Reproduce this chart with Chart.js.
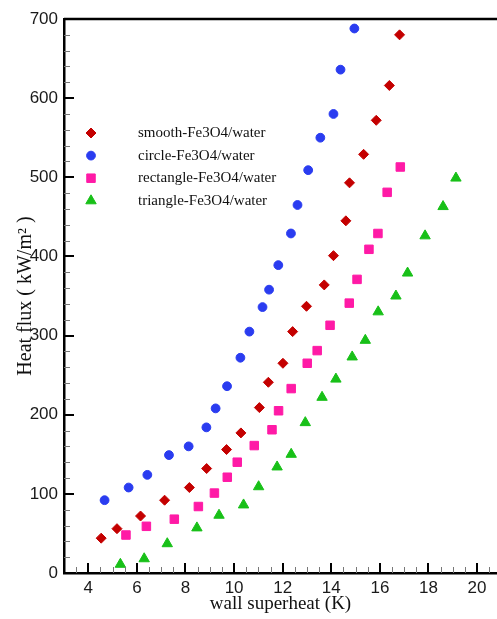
<!DOCTYPE html>
<html>
<head>
<meta charset="utf-8">
<script src="https://cdn.jsdelivr.net/npm/chart.js@4.4.0/dist/chart.umd.min.js"></script>
<style>
  html, body { margin: 0; padding: 0; background: #fff; }
</style>
</head>
<body>
<canvas id="fluxChart" width="497" height="619"></canvas>
<script>
// Data (wall superheat K, heat flux kW/m2)
const smoothX = [4.53, 5.18, 6.15, 7.14, 8.16, 8.87, 9.69, 10.28, 11.04, 11.41, 12.01, 12.41, 12.98, 13.71, 14.09, 14.6, 14.75, 15.33, 15.85, 16.39, 16.81];
const smoothY = [44, 56, 72, 92, 108, 132, 156, 177, 209, 241, 265, 305, 337, 364, 401, 445, 493, 529, 572, 616, 680];

const circleX = [4.67, 5.66, 6.43, 7.32, 8.13, 8.86, 9.24, 9.71, 10.26, 10.63, 11.17, 11.44, 11.82, 12.34, 12.61, 13.05, 13.55, 14.09, 14.38, 14.95];
const circleY = [92, 108, 124, 149, 160, 184, 208, 236, 272, 305, 336, 358, 389, 429, 465, 509, 550, 580, 636, 688];

const rectX = [5.55, 6.39, 7.54, 8.53, 9.19, 9.72, 10.13, 10.83, 11.56, 11.83, 12.35, 13.01, 13.42, 13.95, 14.74, 15.06, 15.55, 15.92, 16.3, 16.84];
const rectY = [48, 59, 68, 84, 101, 121, 140, 161, 181, 205, 233, 265, 281, 313, 341, 371, 409, 429, 481, 513];

const triX = [5.32, 6.3, 7.25, 8.47, 9.38, 10.39, 11.01, 11.77, 12.35, 12.93, 13.62, 14.19, 14.86, 15.4, 15.93, 16.66, 17.14, 17.86, 18.6, 19.13];
const triY = [11, 18, 37, 57, 73, 86, 109, 134, 150, 190, 222, 245, 273, 294, 330, 350, 379, 426, 463, 499];

const xTicks = [4, 6, 8, 10, 12, 14, 16, 18, 20];
const yTicks = [0, 100, 200, 300, 400, 500, 600, 700];

const toPoints = (xs, ys) => xs.map((x, i) => ({ x: x, y: ys[i] }));

// inward major/minor ticks plus the top frame line
const frameTicks = {
    id: 'frameTicks',
    afterDraw(chart) {
        const { ctx, chartArea: a, scales: { x, y } } = chart;
        ctx.save();
        ctx.strokeStyle = '#000';
        ctx.lineWidth = 2.5;
        ctx.beginPath();
        ctx.moveTo(a.left, a.top);
        ctx.lineTo(chart.width, a.top);
        ctx.stroke();

        // minor ticks
        ctx.strokeStyle = '#777';
        ctx.lineWidth = 1;
        ctx.beginPath();
        for (let v = 20; v < 700; v += 20) {
            if (v % 100 === 0) continue;
            const py = Math.round(y.getPixelForValue(v)) + 0.5;
            ctx.moveTo(a.left, py);
            ctx.lineTo(a.left + 6, py);
        }
        for (let v = 3.5; v < x.max; v += 0.5) {
            if (v % 2 === 0) continue;
            const px = Math.round(x.getPixelForValue(v)) + 0.5;
            ctx.moveTo(px, a.bottom);
            ctx.lineTo(px, a.bottom - 6);
        }
        ctx.stroke();

        // major ticks
        ctx.strokeStyle = '#000';
        ctx.lineWidth = 2;
        ctx.beginPath();
        yTicks.forEach(v => {
            if (v === 0) return;
            const py = Math.round(y.getPixelForValue(v));
            ctx.moveTo(a.left, py);
            ctx.lineTo(a.left + 10, py);
        });
        xTicks.forEach(v => {
            const px = Math.round(x.getPixelForValue(v));
            ctx.moveTo(px, a.bottom);
            ctx.lineTo(px, a.bottom - 10);
        });
        ctx.stroke();
        ctx.restore();
    }
};

// legend drawn inside the plot, upper left
const innerLegend = {
    id: 'innerLegend',
    afterDraw(chart) {
        const ctx = chart.ctx;
        ctx.save();
        chart.data.datasets.forEach((ds, i) => {
            const yy = 133 + i * 22.6;
            ctx.fillStyle = ds.pointBackgroundColor;
            ctx.strokeStyle = ds.pointBorderColor;
            ctx.lineWidth = ds.pointBorderWidth;
            Chart.helpers.drawPoint(ctx, {
                pointStyle: ds.pointStyle,
                radius: ds.pointRadius,
                rotation: 0,
                borderWidth: ds.pointBorderWidth
            }, 91, yy);
            ctx.fillStyle = '#111';
            ctx.font = "15px 'Liberation Serif', 'Times New Roman', serif";
            ctx.textBaseline = 'middle';
            ctx.textAlign = 'left';
            ctx.fillText(ds.label, 138, yy);
        });
        ctx.restore();
    }
};

const tickFont = { family: "'Liberation Sans', Arial, sans-serif", size: 17 };
const titleFont = { family: "'Liberation Serif', 'Times New Roman', serif", size: 19 };

new Chart(document.getElementById('fluxChart'), {
    type: 'scatter',
    data: {
        datasets: [
            {
                label: 'smooth-Fe3O4/water',
                data: toPoints(smoothX, smoothY),
                pointStyle: 'rectRot',
                pointRadius: 5,
                pointBackgroundColor: '#c40000',
                pointBorderColor: '#c40000',
                pointBorderWidth: 1
            },
            {
                label: 'circle-Fe3O4/water',
                data: toPoints(circleX, circleY),
                pointStyle: 'circle',
                pointRadius: 4.4,
                pointBackgroundColor: '#2a3cf0',
                pointBorderColor: '#2a3cf0',
                pointBorderWidth: 1
            },
            {
                label: 'rectangle-Fe3O4/water',
                data: toPoints(rectX, rectY),
                pointStyle: 'rect',
                pointRadius: 6,
                pointBackgroundColor: '#ff1aa6',
                pointBorderColor: '#ff1aa6',
                pointBorderWidth: 1
            },
            {
                label: 'triangle-Fe3O4/water',
                data: toPoints(triX, triY),
                pointStyle: 'triangle',
                pointRadius: 6,
                pointBackgroundColor: '#18c018',
                pointBorderColor: '#18c018',
                pointBorderWidth: 1
            }
        ]
    },
    options: {
        responsive: false,
        animation: false,
        layout: { autoPadding: false, padding: { top: 19, right: 0, bottom: 0, left: 0 } },
        plugins: {
            legend: { display: false },
            tooltip: { enabled: false }
        },
        scales: {
            x: {
                type: 'linear',
                min: 3,
                max: 20.82,
                afterBuildTicks: scale => { scale.ticks = xTicks.map(v => ({ value: v })); },
                afterFit: scale => {
                    scale.height = 46;
                    scale.paddingLeft = 0;
                    scale.paddingRight = 0;
                },
                grid: { display: false, drawTicks: false },
                border: { display: true, color: '#000', width: 2.5 },
                ticks: { color: '#1a1a1a', font: tickFont, padding: 5, maxRotation: 0, autoSkip: false },
                title: {
                    display: true,
                    text: 'wall superheat (K)',
                    color: '#111',
                    font: titleFont,
                    padding: { top: 0, bottom: 4 }
                }
            },
            y: {
                type: 'linear',
                min: 0,
                max: 700,
                afterBuildTicks: scale => { scale.ticks = yTicks.map(v => ({ value: v })); },
                afterFit: scale => {
                    scale.width = 64;
                    scale.paddingTop = 0;
                    scale.paddingBottom = 0;
                },
                grid: { display: false, drawTicks: false },
                border: { display: true, color: '#000', width: 2.5 },
                ticks: { color: '#1a1a1a', font: tickFont, padding: 6, autoSkip: false },
                title: {
                    display: true,
                    text: 'Heat flux ( kW/m\u00B2 )',
                    color: '#111',
                    font: { family: titleFont.family, size: 20 },
                    padding: { top: 14, bottom: 0 }
                }
            }
        }
    },
    plugins: [frameTicks, innerLegend]
});
</script>
</body>
</html>
